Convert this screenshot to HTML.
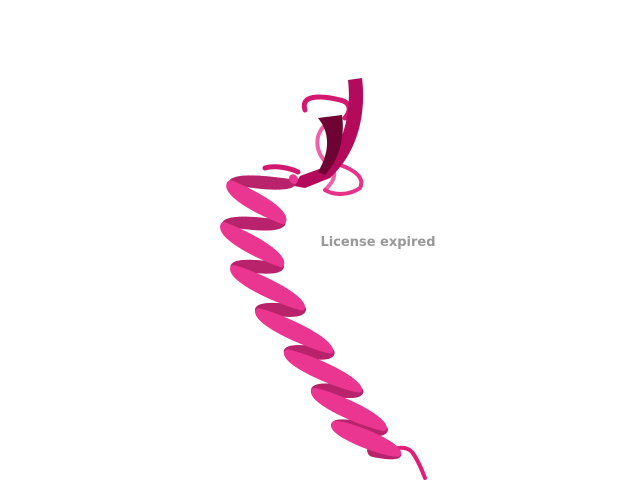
<!DOCTYPE html>
<html><head><meta charset="utf-8"><style>
html,body{margin:0;padding:0;background:#fff;width:640px;height:480px;overflow:hidden}
svg{display:block}
</style></head><body>
<svg id="s" width="640" height="480" viewBox="0 0 640 480">
<g fill="none" stroke-linecap="round" stroke-linejoin="round">
<path d="M305,110 C300,95 320,95 340,100 C350,102 352,110 345,118" stroke="#d0196f" stroke-width="5"/>
<path d="M325,125 C310,140 320,160 330,165 C340,175 330,185 325,190" stroke="#f060a8" stroke-width="4"/>
<path d="M340,165 C355,170 365,178 360,188 C350,195 335,196 325,190" stroke="#e6338a" stroke-width="4"/>
<path d="M265,168 C275,165 290,168 298,172" stroke="#d0196f" stroke-width="5"/>
<path d="M385,452 C395,448 405,445 412,452 C418,460 422,470 425,478" stroke="#e01e7a" stroke-width="4"/>
</g>
<g>
<path d="M348,80 L362,78 C366,110 360,150 330,178 L305,188 L294,186 L300,176 L322,168 C342,148 352,115 348,80 Z" fill="#b40a5c"/>
<path d="M318,118 L342,115 C345,135 340,160 325,175 L318,172 C328,155 332,135 318,118 Z" fill="#6e0333"/>
</g>
<g id="helix" stroke-linecap="round"></g>
<text x="378" y="246" text-anchor="middle" font-family="'DejaVu Sans','Liberation Sans',sans-serif" font-weight="bold" font-size="13" fill="#999">License expired</text>
</svg>
<script>
var axis=[[266,170],[254,212],[252,257],[275,302],[305,347],[335,387],[360,427],[372,450]];
var g=document.getElementById('helix');
function pt(u){var n=axis.length-1,f=u*n,i=Math.min(Math.floor(f),n-1),t=f-i;
return [axis[i][0]+(axis[i+1][0]-axis[i][0])*t,axis[i][1]+(axis[i+1][1]-axis[i][1])*t];}
var N=400,turns=7.3,R=29,back=[],front=[];
var prev=null;
for(var k=0;k<=N;k++){var u=k/N,p=pt(u);
var a=2*Math.PI*turns*u+1.2,s=Math.sin(a),c=Math.cos(a);
var x=p[0]+R*s,y=p[1]+9*s;
if(prev){(c>0?front:back).push([prev[0],prev[1],x,y,Math.abs(c)]);}
prev=[x,y];}
function seg(a,front){var l=document.createElementNS('http://www.w3.org/2000/svg','line');


l.setAttribute('x1',a[0]);l.setAttribute('y1',a[1]);l.setAttribute('x2',a[2]);l.setAttribute('y2',a[3]);
l.setAttribute('stroke',front?'#ea3690':'#b8236c');
l.setAttribute('stroke-width',front?(5+13*a[4]):(4+9*a[4]));g.appendChild(l);}
back.forEach(function(a){seg(a,false)});front.forEach(function(a){seg(a,true)});
</script>
</body></html>
